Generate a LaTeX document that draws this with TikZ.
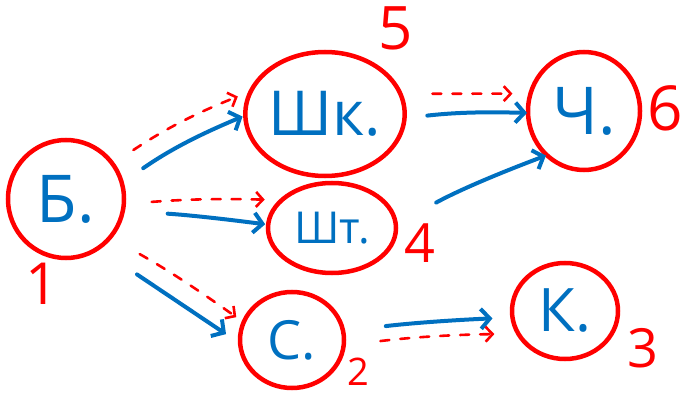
\documentclass[tikz,border=0pt]{standalone}
\usepackage{fontspec}
\setmainfont{Open Sans}
\usetikzlibrary{shapes.geometric,arrows.meta}
\definecolor{inkred}{RGB}{255,0,0}
\definecolor{inkblue}{RGB}{0,112,192}
\begin{document}
\begin{tikzpicture}[x=1pt,y=-1pt,
  circ/.style={ellipse, draw=inkred, line width=4.5pt, inner sep=0pt, outer sep=0pt, text=inkblue},
  num/.style={text=inkred, inner sep=0pt},
  flow/.style={draw=inkblue, line width=4pt, line cap=round,
    -{Straight Barb[length=9pt,width=20pt,line width=4pt]}},
  hint/.style={draw=inkred, line width=2.6pt, line cap=round, dash pattern=on 9pt off 11pt,
    -{Straight Barb[length=7pt,width=15pt,line width=2.6pt]}}]
\useasboundingbox (0,0) rectangle (682,398);

% nodes
\node[circ, minimum width=116pt, minimum height=118pt, font=\fontsize{66}{72}\selectfont] (b) at (66,199) {Б.};
\node[circ, minimum width=144pt, minimum height=124pt, font=\fontsize{62}{70}\selectfont] (shk) at (325,114) {Шк.};
\node[circ, minimum width=128pt, minimum height=90pt, font=\fontsize{44}{50}\selectfont] (sht) at (332,228) {Шт.};
\node[circ, minimum width=112pt, minimum height=118pt, font=\fontsize{66}{72}\selectfont] (ch) at (584,111) {Ч.};
\node[circ, minimum width=104pt, minimum height=96pt, font=\fontsize{54}{60}\selectfont] (s) at (292,340) {С.};
\node[circ, minimum width=106pt, minimum height=96pt, font=\fontsize{60}{66}\selectfont] (k) at (565,311) {К.};

% numbers
\node[num, font=\fontsize{58}{60}\selectfont] (n1) at (42,284) {1};
\node[num, font=\fontsize{60}{64}\selectfont] (n5) at (396,28) {5};
\node[num, font=\fontsize{54}{56}\selectfont] (n4) at (420,243) {4};
\node[num, font=\fontsize{62}{66}\selectfont] (n6) at (665,108) {6};
\node[num, font=\fontsize{38}{42}\selectfont] (n2) at (358,372) {2};
\node[num, font=\fontsize{54}{58}\selectfont] (n3) at (643,348) {3};

% blue solid arrows
\draw[flow, shorten <=26pt, shorten >=3pt] (b.16.5) to[bend left=6] (shk.181);
\draw[flow, shorten <=45pt, shorten >=3pt] (b.-12.8) to[bend left=2] (sht.177.4);
\draw[flow, shorten <=47pt, shorten >=17pt] (b.-57.4) -- (s.184);
\draw[flow, shorten <=23pt, shorten >=1pt] (shk.-3.6) to[bend left=4] (ch.182);
\draw[flow, shorten <=46pt, shorten >=1pt] (sht.3.1) to[bend left=4] (ch.230);
\draw[flow, shorten <=43pt, shorten >=20pt] (s.10.4) to[bend left=2] (k.187.1);

% red dashed arrows
\draw[hint, shorten <=25pt, shorten >=14pt] (b.37.7) to[bend left=6] (shk.163.7);
\draw[hint, shorten <=28pt, shorten >=17pt] (b.-5.3) to[bend left=3] (sht.151);
\draw[hint, shorten <=34pt, shorten >=9pt] (b.-41.5) to[bend left=3] (s.160.7);
\draw[hint, shorten <=32pt, shorten >=18pt] (shk.15.1) -- (ch.162);
\draw[hint, shorten <=37pt, shorten >=24pt] (s.-6.5) to[bend left=3] (k.206.6);
\end{tikzpicture}
\end{document}
